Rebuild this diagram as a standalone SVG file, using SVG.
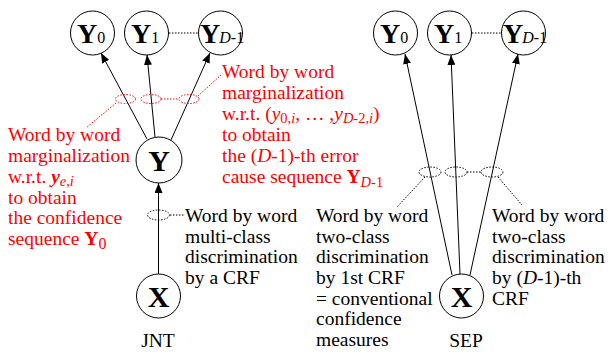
<svg xmlns="http://www.w3.org/2000/svg" width="609" height="353" viewBox="0 0 609 353">
  <style>
    text { font-family: "Liberation Serif", "Times New Roman", serif; font-size: 19.5px; fill: #000; }
    .red { fill: #ff0000; }
    .node circle { fill: #fff; stroke: #000; stroke-width: 1; }
    .nl { font-size: 28px; font-weight: bold; }
    .nb { font-size: 30px; font-weight: bold; }
    .sub { font-size: 16px; font-weight: normal; }
    .edge { stroke: #000; stroke-width: 1; fill: none; marker-end: url(#arrow); }
    .dots { stroke: #000; stroke-width: 1; fill: none; stroke-dasharray: 1.5 1.5; }
    .rdots { stroke: #ff0000; stroke-width: 1; fill: none; stroke-dasharray: 1.5 1.5; }
    .it { font-style: italic; }
    .b { font-weight: bold; }
    .s { font-size: 14.5px; }
  </style>
  <defs>
    <marker id="arrow" markerWidth="10" markerHeight="8" refX="10" refY="4" orient="auto" markerUnits="userSpaceOnUse">
      <path d="M0,0 L10,4 L0,8 z" fill="#000"/>
    </marker>
  </defs>

  <!-- connectors -->
  <g id="connectors">
    <!-- JNT -->
    <line class="edge" x1="158.5" y1="274" x2="158.5" y2="183"/>
    <line class="edge" x1="147" y1="139" x2="101" y2="53"/>
    <line class="edge" x1="155" y1="137" x2="147" y2="55"/>
    <line class="edge" x1="171" y1="140" x2="210" y2="53"/>
    <!-- SEP -->
    <line class="edge" x1="452" y1="275" x2="405" y2="54"/>
    <line class="edge" x1="460" y1="274" x2="451" y2="55"/>
    <line class="edge" x1="470" y1="275" x2="518" y2="54"/>
    <!-- ellipsis between Y1 and YD-1 -->
    <line class="dots" x1="169" y1="33" x2="198" y2="33"/>
    <line class="dots" x1="472" y1="33" x2="501" y2="33"/>
  </g>

  <!-- annotations on the JNT edges -->
  <g id="jnt-marks">
    <ellipse class="rdots" cx="125.5" cy="99" rx="10" ry="4.5"/>
    <ellipse class="rdots" cx="151" cy="99" rx="10" ry="4.5"/>
    <ellipse class="rdots" cx="189" cy="99" rx="10" ry="4.5"/>
    <line class="rdots" x1="161" y1="99" x2="179" y2="99"/>
    <line class="rdots" x1="116" y1="103" x2="86" y2="128"/>
    <line class="rdots" x1="198" y1="96" x2="222" y2="74"/>
    <ellipse class="dots" cx="158.5" cy="215" rx="11" ry="5"/>
    <line class="dots" x1="170" y1="215" x2="184" y2="215"/>
  </g>

  <!-- annotations on the SEP edges -->
  <g id="sep-marks">
    <ellipse class="dots" cx="430" cy="172" rx="11" ry="5"/>
    <ellipse class="dots" cx="456" cy="172" rx="11" ry="5"/>
    <ellipse class="dots" cx="492" cy="172" rx="11" ry="5"/>
    <line class="dots" x1="467" y1="172" x2="481" y2="172"/>
    <line class="dots" x1="425" y1="177" x2="397" y2="207"/>
    <line class="dots" x1="498" y1="177" x2="522" y2="205"/>
  </g>

  <!-- JNT nodes -->
  <g id="jnt-y0" class="node">
    <circle cx="92.5" cy="33" r="22"/>
    <text x="77" y="43" class="nl">Y<tspan class="sub">0</tspan></text>
  </g>
  <g id="jnt-y1" class="node">
    <circle cx="146.5" cy="33" r="22"/>
    <text x="131" y="43" class="nl">Y<tspan class="sub">1</tspan></text>
  </g>
  <g id="jnt-yd" class="node">
    <circle cx="220.5" cy="33" r="22"/>
    <text x="200" y="43" class="nl">Y<tspan class="sub it" dx="-1">D</tspan><tspan class="sub">-1</tspan></text>
  </g>
  <g id="jnt-y" class="node">
    <circle cx="159" cy="160" r="23"/>
    <text x="159" y="171" class="nb" text-anchor="middle">Y</text>
  </g>
  <g id="jnt-x" class="node">
    <circle cx="158.5" cy="296" r="22"/>
    <text x="158.5" y="307" class="nb" text-anchor="middle">X</text>
  </g>

  <!-- SEP nodes -->
  <g id="sep-y0" class="node">
    <circle cx="395.5" cy="33" r="22"/>
    <text x="380" y="43" class="nl">Y<tspan class="sub">0</tspan></text>
  </g>
  <g id="sep-y1" class="node">
    <circle cx="449.5" cy="33" r="22"/>
    <text x="434" y="43" class="nl">Y<tspan class="sub">1</tspan></text>
  </g>
  <g id="sep-yd" class="node">
    <circle cx="523.5" cy="33" r="22"/>
    <text x="503" y="43" class="nl">Y<tspan class="sub it" dx="-1">D</tspan><tspan class="sub">-1</tspan></text>
  </g>
  <g id="sep-x" class="node">
    <circle cx="461.5" cy="296" r="22"/>
    <text x="461.5" y="307" class="nb" text-anchor="middle">X</text>
  </g>

  <!-- red labels -->
  <g id="label-confidence">
    <text class="red" x="8" y="141">Word by word</text>
    <text class="red" x="8" y="162">marginalization</text>
    <text class="red" x="8" y="183">w.r.t. <tspan class="b it">y</tspan><tspan class="it s" dy="3">e,i</tspan></text>
    <text class="red" x="8" y="204">to obtain</text>
    <text class="red" x="8" y="224">the confidence</text>
    <text class="red" x="8" y="245">sequence <tspan class="b">Y</tspan><tspan font-size="16" dy="4">0</tspan></text>
  </g>
  <g id="label-error">
    <text class="red" x="222" y="78">Word by word</text>
    <text class="red" x="222" y="99">marginalization</text>
    <text class="red" x="222" y="120">w.r.t. (<tspan class="it">y</tspan><tspan class="s" dy="3">0,<tspan class="it">i</tspan></tspan><tspan dy="-3">, … ,</tspan><tspan class="it">y</tspan><tspan class="s" dy="3"><tspan class="it">D</tspan>-2,<tspan class="it">i</tspan></tspan><tspan dy="-3">)</tspan></text>
    <text class="red" x="222" y="141">to obtain</text>
    <text class="red" x="222" y="162">the (<tspan class="it">D</tspan>-1)-th error</text>
    <text class="red" x="222" y="183">cause sequence <tspan class="b">Y</tspan><tspan class="s" dy="4"><tspan class="it">D</tspan>-1</tspan></text>
  </g>

  <!-- black labels -->
  <g id="label-multiclass">
    <text x="185" y="222">Word by word</text>
    <text x="185" y="243">multi-class</text>
    <text x="185" y="263">discrimination</text>
    <text x="185" y="284">by a CRF</text>
  </g>
  <g id="label-first-crf">
    <text x="316" y="222">Word by word</text>
    <text x="316" y="243">two-class</text>
    <text x="316" y="263">discrimination</text>
    <text x="316" y="284">by 1st CRF</text>
    <text x="316" y="305">= conventional</text>
    <text x="316" y="325">confidence</text>
    <text x="316" y="346">measures</text>
  </g>
  <g id="label-last-crf">
    <text x="492" y="222">Word by word</text>
    <text x="492" y="243">two-class</text>
    <text x="492" y="263">discrimination</text>
    <text x="492" y="284">by (<tspan class="it">D</tspan>-1)-th</text>
    <text x="492" y="305">CRF</text>
  </g>

  <text x="158" y="347" text-anchor="middle" font-size="21">JNT</text>
  <text x="466" y="347" text-anchor="middle" font-size="21">SEP</text>
</svg>
